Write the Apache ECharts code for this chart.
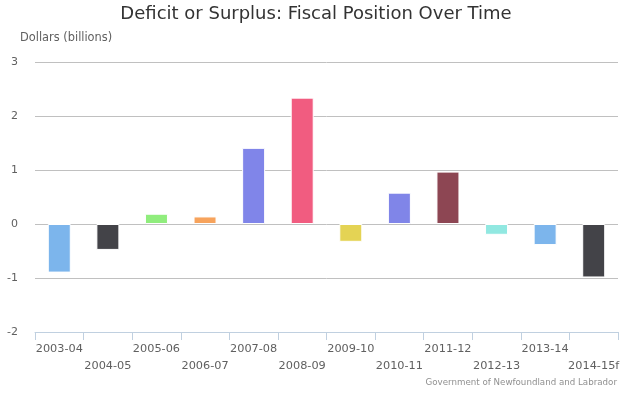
<!DOCTYPE html>
<html>
<head>
<meta charset="utf-8">
<script src="https://cdn.jsdelivr.net/npm/echarts@6/dist/echarts.min.js"></script>
<style>
  html, body { margin: 0; padding: 0; background: #fff; }
  #chart { width: 632px; height: 397px; }
</style>
</head>
<body>
<div id="chart"></div>
<script>
const years = [
  "2003-04", "2004-05", "2005-06", "2006-07", "2007-08", "2008-09",
  "2009-10", "2010-11", "2011-12", "2012-13", "2013-14", "2014-15f"
];
const balance = [-0.90, -0.48, 0.19, 0.14, 1.41, 2.34, -0.33, 0.58, 0.97, -0.20, -0.39, -0.99];
const palette = [
  "#7cb5ec", "#434348", "#90ed7d", "#f7a35c", "#8085e9", "#f15c80",
  "#e4d354", "#8085e8", "#8d4653", "#91e8e1", "#7cb5ec", "#434348"
];
const yTicks = { min: -2, max: 3, step: 1 };

const font = "DejaVu Sans";
const myChart = echarts.init(document.getElementById("chart"));

const option = {
  animation: false,
  title: [
    {
      text: "Deficit or Surplus: Fiscal Position Over Time",
      left: "center",
      top: 0,
      textStyle: { fontFamily: font, fontSize: 18, fontWeight: "normal", color: "#333" },
    },
    {
      text: "Government of Newfoundland and Labrador",
      right: 10,
      top: 373,
      textStyle: { fontFamily: font, fontSize: 8.7, fontWeight: "normal", color: "#909090" },
    },
  ],
  grid: { left: 35, right: 14, top: 62, bottom: 65 },
  xAxis: {
    type: "category",
    data: years,
    axisLine: { onZero: false, lineStyle: { color: "#C0D0E0" } },
    axisTick: { show: true, length: 8, lineStyle: { color: "#C0D0E0" } },
    axisLabel: {
      interval: 0,
      margin: 9,
      fontFamily: font,
      fontSize: 11.3,
      color: "#606060",
      lineHeight: 17,
      formatter: (v, i) => (i % 2 ? "\n" + v : v),
    },
  },
  yAxis: {
    type: "value",
    min: yTicks.min,
    max: yTicks.max,
    interval: yTicks.step,
    name: "Dollars (billions)",
    nameLocation: "end",
    nameGap: 18,
    nameTextStyle: { fontFamily: font, fontSize: 11.4, color: "#606060", align: "left", padding: [0, 0, 0, -15] },
    axisLine: { show: false },
    axisTick: { show: false },
    axisLabel: { margin: 17, fontFamily: font, fontSize: 11, color: "#606060" },
    splitLine: { lineStyle: { color: "#C0C0C0" } },
  },
  series: [
    {
      type: "bar",
      data: balance.map((v, i) => ({ value: v, itemStyle: { color: palette[i] } })),
      barWidth: 23,
      itemStyle: { borderColor: "#fff", borderWidth: 1 },
    },
  ],
};

myChart.setOption(option);
</script>
</body>
</html>
